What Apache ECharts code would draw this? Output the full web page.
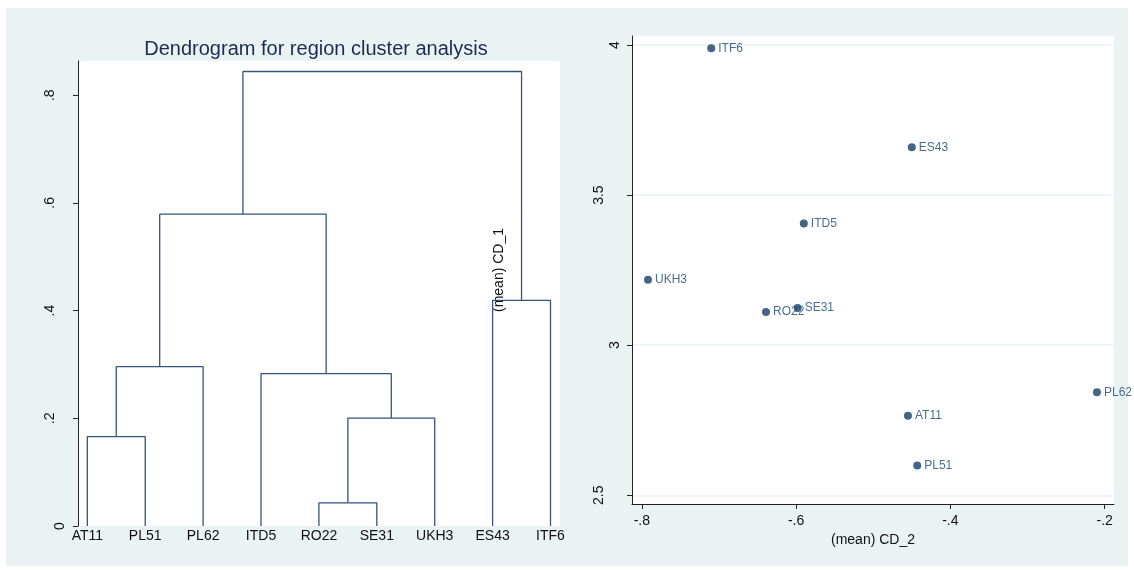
<!DOCTYPE html>
<html>
<head>
<meta charset="utf-8">
<script src="https://cdn.jsdelivr.net/npm/echarts@6/dist/echarts.min.js"></script>
<style>
html,body{margin:0;padding:0;background:#fff;}
#c{width:1134px;height:570px;}
</style>
</head>
<body>
<div id="c"></div>
<script>
// ---- Data ----
var leafNames = ['AT11','PL51','PL62','ITD5','RO22','SE31','UKH3','ES43','ITF6'];
// merges: node ids 0..8 are leaves, merge k creates node 9+k
var mergeA = [0, 9, 4, 11, 3, 7, 10, 15];
var mergeB = [1, 2, 5, 6, 12, 8, 13, 14];
var mergeHeight = [0.166, 0.296, 0.043, 0.2005, 0.283, 0.419, 0.579, 0.844];
var dendroTicks = [0, 0.2, 0.4, 0.6, 0.8];

var pointNames = ['AT11','PL51','PL62','ITD5','RO22','SE31','UKH3','ES43','ITF6'];
var cd2Values = [-0.455, -0.443, -0.210, -0.590, -0.639, -0.598, -0.792, -0.450, -0.710];
var cd1Values = [2.765, 2.599, 2.843, 3.405, 3.111, 3.124, 3.218, 3.659, 3.989];
var cd2Ticks = [-0.8, -0.6, -0.4, -0.2];
var cd1Ticks = [2.5, 3, 3.5, 4];

// ---- Build dendrogram layout ----
var nodeX = [], nodeH = [];
leafNames.forEach(function(n, i){ nodeX.push(i + 1); nodeH.push(0); });
var linkSeries = [];
var LINE = '#33557e';
for (var k = 0; k < mergeA.length; k++) {
  var a = mergeA[k], b = mergeB[k], h = mergeHeight[k];
  linkSeries.push({
    type: 'line', xAxisIndex: 0, yAxisIndex: 0, symbol: 'none', silent: true,
    animation: false,
    lineStyle: { color: LINE, width: 1.3 },
    data: [[nodeX[a], nodeH[a]], [nodeX[a], h], [nodeX[b], h], [nodeX[b], nodeH[b]]]
  });
  nodeX.push((nodeX[a] + nodeX[b]) / 2);
  nodeH.push(h);
}

function stataNum(v) {
  var s = String(Math.round(v * 1000) / 1000);
  return s.replace(/^(-?)0\./, '$1.');
}
function richLabel(v) {
  var s = stataNum(v);
  return (s.indexOf('.') >= 0 ? '{d|' : '{n|') + s + '}';
}

var FONT = 'Liberation Sans, Arial, sans-serif';
var chart = echarts.init(document.getElementById('c'), null, {renderer: 'canvas'});
var option = {
  animation: false,
  backgroundColor: '#ffffff',
  textStyle: { fontFamily: FONT },
  graphic: { elements: [{
    type: 'rect', z: -100, silent: true,
    shape: { x: 6, y: 8, width: 1122, height: 558 },
    style: { fill: '#eaf2f3' }
  }]},
  title: {
    text: 'Dendrogram for region cluster analysis',
    left: 311, top: 34, textAlign: 'center',
    textStyle: { fontFamily: FONT, fontSize: 20, fontWeight: 'normal', color: '#1c2b52' }
  },
  grid: [
    { left: 78, top: 61, width: 482, height: 465, show: true, backgroundColor: '#ffffff', borderWidth: 0 },
    { left: 632, top: 36, width: 482, height: 468, show: true, backgroundColor: '#ffffff', borderWidth: 0 }
  ],
  xAxis: [
    { type: 'value', gridIndex: 0, min: 0.839, max: 9.164,
      axisLine: { show: false }, axisTick: { show: false }, splitLine: { show: false },
      axisLabel: { customValues: leafNames.map(function(n, i){ return i + 1; }),
        formatter: function(v){ return leafNames[Math.round(v) - 1]; },
        margin: 3, fontSize: 14, color: '#111', fontFamily: FONT } },
    { type: 'value', gridIndex: 1, min: -0.8127, max: -0.1879,
      axisLine: { show: true, onZero: false, lineStyle: { color: '#222', width: 1 } },
      axisTick: { show: true, customValues: cd2Ticks, length: 5, lineStyle: { color: '#222' } },
      splitLine: { show: false },
      axisLabel: { customValues: cd2Ticks, formatter: stataNum, margin: 10, fontSize: 14, color: '#111', fontFamily: FONT },
      name: '(mean) CD_2', nameLocation: 'middle', nameGap: 25,
      nameTextStyle: { fontSize: 14, color: '#111', fontFamily: FONT } }
  ],
  yAxis: [
    { type: 'value', gridIndex: 0, min: 0, max: 0.8635,
      axisLine: { show: true, onZero: false, lineStyle: { color: '#222', width: 1 } },
      axisTick: { show: true, customValues: dendroTicks, length: 5, lineStyle: { color: '#222' } },
      splitLine: { show: false },
      axisLabel: { customValues: dendroTicks, rotate: 90, margin: 11, formatter: richLabel,
        rich: { n: { fontSize: 14, color: '#111', fontFamily: FONT, lineHeight: 14 },
                d: { fontSize: 14, color: '#111', fontFamily: FONT, lineHeight: 14, padding: [0, 0, 19, 0] } } } },
    { type: 'value', gridIndex: 1, min: 2.471, max: 4.030,
      axisLine: { show: true, onZero: false, lineStyle: { color: '#222', width: 1 } },
      axisTick: { show: true, customValues: cd1Ticks, length: 5, lineStyle: { color: '#222' } },
      splitLine: { show: true, lineStyle: { color: '#eaf2f3', width: 1.5 } },
      axisLabel: { customValues: cd1Ticks, rotate: 90, margin: 10, formatter: richLabel,
        rich: { n: { fontSize: 14, color: '#111', fontFamily: FONT, lineHeight: 14 },
                d: { fontSize: 14, color: '#111', fontFamily: FONT, lineHeight: 14, padding: [0, 0, 32, 0] } } },
      name: '(mean) CD_1', nameLocation: 'middle', nameRotate: 90, nameGap: 126,
      nameTextStyle: { fontSize: 14, color: '#111', fontFamily: FONT } }
  ],
  series: linkSeries.concat([{
    type: 'scatter', xAxisIndex: 1, yAxisIndex: 1, symbol: 'circle', symbolSize: 8,
    itemStyle: { color: '#163e68' },
    label: { show: true, position: 'right', distance: 3, fontSize: 12, color: '#1a476f',
      fontFamily: FONT, formatter: function(p){ return p.name; } },
    data: pointNames.map(function(n, i){ return { name: n, value: [cd2Values[i], cd1Values[i]] }; })
  }])
};
chart.setOption(option);
</script>
</body>
</html>
